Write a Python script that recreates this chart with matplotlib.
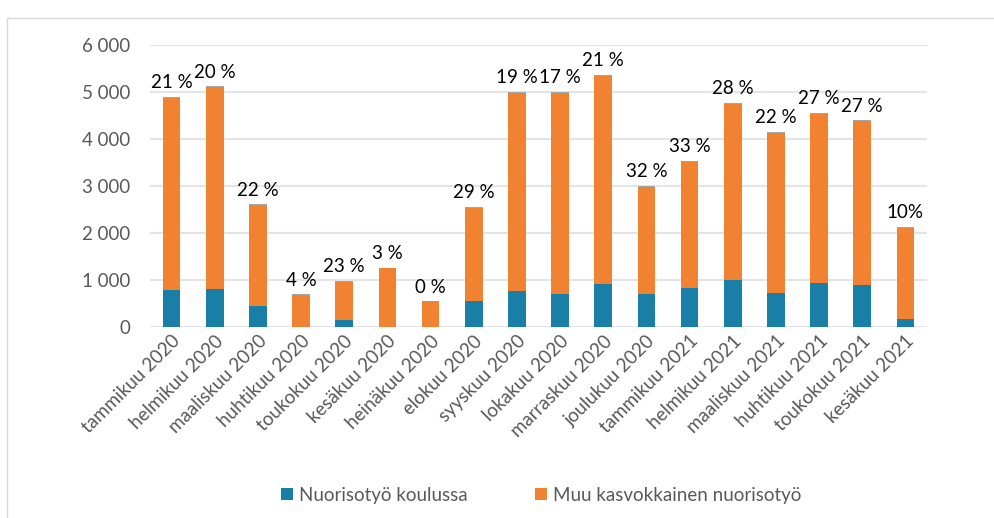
import matplotlib
matplotlib.use('Agg')
import matplotlib.pyplot as plt
from matplotlib.patches import Rectangle
from matplotlib.ticker import FuncFormatter

plt.rcParams['font.family'] = ['Lato', 'DejaVu Sans']

months = ['tammikuu 2020', 'helmikuu 2020', 'maaliskuu 2020', 'huhtikuu 2020',
          'toukokuu 2020', 'kesäkuu 2020', 'heinäkuu 2020', 'elokuu 2020',
          'syyskuu 2020', 'lokakuu 2020', 'marraskuu 2020', 'joulukuu 2020',
          'tammikuu 2021', 'helmikuu 2021', 'maaliskuu 2021', 'huhtikuu 2021',
          'toukokuu 2021', 'kesäkuu 2021']
koulussa = [790, 820, 450, 0, 155, 0, 0, 550, 775, 700, 920, 700,
            845, 1000, 725, 950, 895, 170]
muu = [4080, 4280, 2140, 680, 815, 1250, 550, 1995, 4205, 4280, 4430, 2285,
       2675, 3755, 3410, 3585, 3485, 1945]
muut_pienet = [25, 20, 20, 20, 20, 20, 5, 20, 20, 20, 20, 20, 20, 20, 20, 20, 20, 20]
osuus = ['21 %', '20 %', '22 %', '4 %', '23 %', '3 %', '0 %', '29 %', '19 %',
         '17 %', '21 %', '32 %', '33 %', '28 %', '22 %', '27 %', '27 %', '10%']

blue = '#1a7fa7'
orange = '#f08232'
grey = '#a5a5a5'

fig = plt.figure(figsize=(9.94, 5.18), dpi=100)
fig.patches.append(Rectangle((7 / 994, -0.1), 1.1, 1 - 18 / 518 + 0.1,
                             transform=fig.transFigure, fill=False,
                             edgecolor='#d9d9d9', linewidth=1))
ax = fig.add_axes([150 / 994, 1 - 327.3 / 518, 777 / 994, 282.3 / 518])

x = list(range(len(months)))
w = 0.41
ax.bar(x, koulussa, w, color=blue, label='Nuorisotyö koulussa', zorder=3)
ax.bar(x, muu, w, bottom=koulussa, color=orange,
       label='Muu kasvokkainen nuorisotyö', zorder=3)
tops = [a + b for a, b in zip(koulussa, muu)]
ax.bar(x, muut_pienet, w, bottom=tops, color=grey, zorder=3)

for i in x:
    ax.annotate(osuus[i], (i, tops[i] + muut_pienet[i]), xytext=(0, 4),
                textcoords='offset points', ha='center', va='bottom',
                fontsize=13.5, color='black')

ax.set_xlim(-0.5, len(months) - 0.5)
ax.set_ylim(0, 6000)
ax.set_yticks(range(0, 6001, 1000))
ax.yaxis.set_major_formatter(FuncFormatter(lambda v, p: f'{int(v):,}'.replace(',', ' ')))
ax.grid(axis='y', color='#e1e4e8', linewidth=1.5, zorder=0)
for s in ax.spines.values():
    s.set_visible(False)
ax.tick_params(axis='both', length=0, labelsize=13.5, colors='#595959')
ax.tick_params(axis='y', pad=14)
ax.set_xticks(x)
ax.set_xticklabels(months, rotation=45, ha='right', rotation_mode='anchor')

fig.legend(loc='center', bbox_to_anchor=(541 / 994, 1 - 495 / 518), ncol=2,
           frameon=False, fontsize=13.5, labelcolor='#595959',
           handlelength=0.65, handleheight=0.65, handletextpad=0.3,
           columnspacing=3.6)

fig.savefig('out.png', dpi=100)
